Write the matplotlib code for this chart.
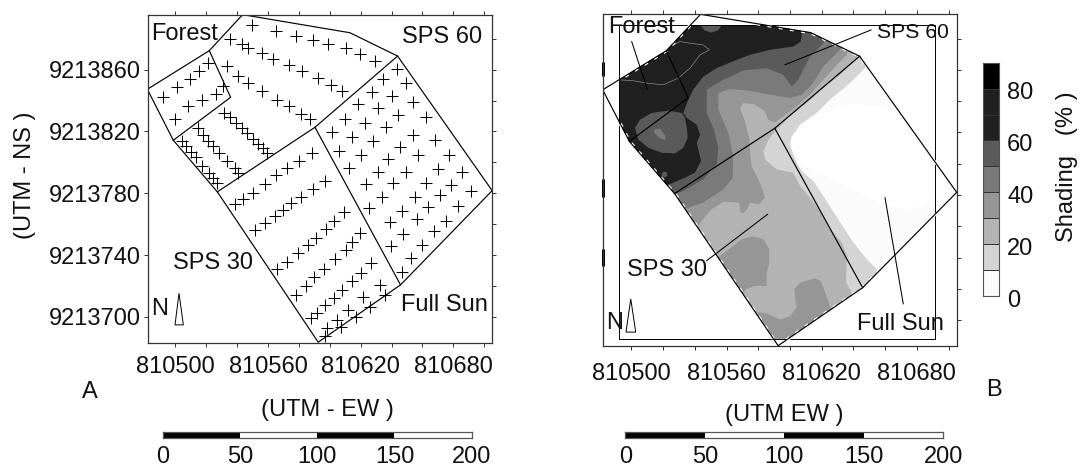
import numpy as np
import matplotlib
matplotlib.use('Agg')
import matplotlib.pyplot as plt
from matplotlib.colors import ListedColormap
from matplotlib.patches import Polygon
from matplotlib.transforms import ScaledTranslation

plt.rcParams['font.family'] = ['Liberation Sans', 'DejaVu Sans']
plt.rcParams['font.size'] = 17

#data, east and north are relative to these bases
E0 = 810000
N0 = 9213000

#plot boundaries
outline_e = [543.6, 613.0, 643.9, 705.1, 645.8, 592.5, 527.2, 498.7, 481.9, 522.0, 543.6]
outline_n = [895.6, 883.9, 868.8, 781.7, 720.7, 683.6, 780.9, 814.3, 847.3, 872.3, 895.6]
split1_e = [643.9, 590.4, 527.2]
split1_n = [868.8, 822.7, 780.9]
split2_e = [498.7, 535.8, 522.0]
split2_n = [814.3, 842.1, 872.3]
split3_e = [590.4, 645.8]
split3_n = [822.7, 720.7]

#sampling points of panel A
forest_e = [492.2, 500.9, 509.5, 515.3, 520.9, 499.8, 508.4, 517.3, 526.1, 530.6]
forest_n = [842.1, 848.6, 853.7, 859.1, 864.1, 828.1, 836.5, 840.4, 844.3, 849.4]
sps60_e = [549.8, 565.4, 578.1, 588.9, 599.0, 610.2, 619.5, 629.2,
           535.4, 542.9, 547.2, 555.9, 563.4, 573.6, 582.2, 592.5, 600.9, 607.8,
           533.2, 540.8, 547.2, 556.3, 565.6, 573.8, 581.3, 587.1,
           531.5, 535.4, 539.3, 542.9, 546.6, 550.0, 553.7, 556.9, 559.5,
           514.5, 517.7, 521.4, 524.6, 528.5, 533.6, 538.6, 540.8,
           504.1, 506.9, 509.9, 513.2, 517.0, 522.0, 524.6, 526.7]
sps60_n = [888.7, 885.0, 881.8, 879.2, 876.6, 874.2, 870.1, 865.8,
           880.1, 876.6, 874.0, 870.6, 866.7, 863.2, 859.4, 854.4, 850.1, 846.0,
           862.6, 855.9, 851.6, 846.2, 840.4, 836.5, 831.3, 827.9,
           832.2, 829.2, 825.7, 822.0, 818.8, 814.9, 811.9, 809.1, 805.9,
           822.0, 817.7, 814.1, 810.6, 806.3, 800.9, 796.2, 792.9,
           813.8, 810.8, 806.9, 803.7, 797.9, 792.9, 789.7, 786.9]
sun_e = [643.2, 634.6, 649.3, 627.0, 640.0, 618.4, 654.0, 631.4, 609.8, 644.3, 662.0, 622.7, 636.1,
         601.2, 614.1, 654.0, 628.1, 668.0, 606.1, 645.4, 619.9, 657.2, 677.3, 637.8, 612.6, 631.4,
         649.3, 670.2, 685.9, 623.2, 640.6, 662.6, 678.2, 691.5, 633.5, 655.1, 671.3, 625.5, 646.5,
         663.3, 683.1, 638.9, 656.2, 674.9, 647.5, 667.4, 639.3, 660.0, 652.5, 646.5]
sun_n = [860.2, 853.7, 851.6, 845.3, 843.2, 838.0, 838.9, 835.4, 828.1, 830.9, 829.2, 825.7, 822.7,
         819.4, 816.2, 817.7, 814.1, 814.5, 807.6, 809.7, 804.8, 804.8, 804.8, 802.0, 796.6, 794.0,
         794.0, 795.7, 794.0, 785.8, 786.5, 786.5, 785.4, 781.7, 777.4, 777.8, 778.9, 770.3, 768.8,
         771.4, 772.0, 761.7, 763.2, 762.3, 753.7, 755.6, 746.1, 746.6, 737.9, 729.3]
sps30_e = [538.6, 544.0, 550.5, 558.0, 565.1, 572.5, 580.0, 588.2,
           551.6, 558.0, 564.5, 569.9, 574.8, 581.1, 588.9, 596.8,
           566.0, 572.5, 579.2, 585.6, 591.0, 597.3, 602.7, 609.4,
           578.1, 584.6, 589.9, 596.2, 603.3, 610.4, 614.5, 619.5,
           587.6, 591.9, 596.8, 602.7, 607.6, 614.1, 620.1, 626.8,
           596.8, 597.9, 604.4, 607.0, 611.5, 616.7, 621.7, 626.0, 632.4, 635.9]
sps30_n = [772.9, 776.1, 780.4, 785.8, 791.9, 796.2, 801.1, 806.3,
           756.3, 760.6, 765.3, 769.2, 773.5, 777.8, 782.6, 788.2,
           731.0, 735.3, 741.2, 746.6, 750.9, 756.7, 762.1, 768.1,
           714.2, 720.2, 725.6, 731.0, 737.3, 743.3, 748.3, 754.1,
           699.1, 702.8, 707.7, 712.1, 717.4, 723.5, 728.7, 735.1,
           687.9, 692.6, 698.0, 693.3, 704.5, 700.2, 713.1, 706.7, 720.7, 714.2]

#mapped area of panel B, the plot inside the grid rectangle
mapped_e = [537.1, 585.1, 613.0, 643.9, 691.6, 691.6, 645.8, 598.8, 589.5, 527.2, 498.7, 492.4, 492.4, 522.0]
mapped_n = [888.6, 888.6, 883.9, 868.8, 800.9, 767.8, 720.7, 688.0, 688.0, 780.9, 814.3, 826.7, 853.8, 872.3]

#shading isolines of panel B, each ring holds the area above that shading
core_e = [600.0, 602.5, 616.8, 640.0, 663.1, 675.7, 691.7, 691.7, 675.7, 658.9, 642.1, 623.1, 608.4, 602.1]
core_n = [812.3, 819.7, 831.4, 838.9, 834.6, 824.0, 804.9, 778.3, 769.8, 774.1, 782.6, 792.1, 798.5, 805.9]
above10_e = [470, 660, 647.3, 637.8, 625.2, 616.8, 606.3, 601.1, 600.0, 602.1, 605.2, 608.4, 614.7, 621.0,
             630.4, 639.9, 648.4, 655.7, 655.7, 470]
above10_n = [900, 900, 861.2, 851.6, 841.0, 832.5, 825.0, 817.6, 812.3, 805.9, 798.5, 794.3, 788.9, 779.4,
             764.5, 749.7, 739.0, 731.6, 680, 680]
above20_e = [470, 645, 642.1, 631.6, 621.0, 610.5, 600.0, 591.6, 586.4, 583.2, 584.3, 591.6, 602.1, 606.3,
             616.8, 625.2, 632.6, 635.8, 635.3, 640.0, 640.0, 470]
above20_n = [900, 900, 866.9, 856.9, 848.4, 838.9, 830.4, 821.9, 815.5, 808.1, 802.7, 796.4, 794.3, 785.8,
             773.0, 758.1, 749.7, 741.2, 724.2, 715.7, 680, 680]
above30_e = [470, 640, 635.8, 630.5, 621.0, 612.6, 604.2, 595.8, 590.6, 586.4, 584.3, 577.9, 570.6, 568.5,
             571.6, 574.4, 574.8, 575.8, 581.1, 584.3, 580.1, 574.8, 572.3, 570.2, 568.5, 568.1, 558.0,
             550.6, 544.3, 537.0, 470]
above30_n = [900, 900, 869.7, 864.3, 853.7, 844.2, 836.7, 830.4, 826.5, 827.8, 833.5, 837.8, 838.9, 835.7,
             827.2, 815.5, 807.0, 798.5, 787.9, 778.3, 774.1, 775.1, 769.8, 768.3, 769.8, 775.1, 775.8,
             770.9, 763.4, 751.8, 751.8]
patch30a_e = [552.7, 555.9, 563.2, 569.5, 576.9, 583.2, 586.9, 586.9, 585.3, 585.3, 577.9, 572.7, 569.5, 562.2]
patch30a_n = [739.0, 741.1, 746.5, 751.8, 753.5, 751.8, 745.4, 736.9, 729.5, 721.6, 722.0, 719.9, 716.7, 726.3]
patch30b_e = [579.0, 586.3, 593.7, 600.0, 604.2, 603.2, 602.7, 606.3, 615.8, 619.3, 622.1, 625.7, 606.3, 596.8, 590.5]
patch30b_n = [705.1, 704.0, 700.3, 702.5, 708.2, 714.6, 719.9, 723.7, 726.7, 725.2, 717.8, 707.2, 690.1, 687.6, 687.6]
above40_e = [470, 640, 631.5, 621.0, 613.7, 607.4, 600.0, 587.4, 572.7, 562.2, 554.8, 554.8, 561.1, 564.2,
             563.9, 557.9, 545.3, 535.9, 480.2, 470]
above40_n = [900, 900, 872.9, 862.2, 850.6, 844.2, 842.1, 844.2, 846.9, 847.8, 845.3, 834.6, 819.8, 804.9,
             791.1, 783.6, 775.2, 772.0, 767.7, 767.7]
above50_e = [470, 630, 621.0, 612.6, 605.2, 601.1, 595.8, 585.3, 570.5, 557.9, 547.5, 547.5, 547.5, 551.6,
             554.8, 553.8, 545.3, 532.7, 526.4, 505.4, 470]
above50_n = [900, 900, 877.1, 868.6, 853.7, 849.5, 856.9, 861.2, 859.7, 853.7, 847.4, 839.9, 832.5, 823.0,
             810.2, 799.6, 790.0, 782.5, 780.4, 770.9, 770.9]
above60_e = [470, 608.4, 608.4, 606.7, 602.1, 587.4, 574.8, 566.4, 553.8, 545.3, 539.0, 535.9, 532.7, 534.9,
             541.2, 543.3, 541.2, 543.9, 540.1, 533.8, 525.4, 511.7, 470]
above60_n = [900, 896.2, 888.6, 878.1, 875.0, 872.9, 869.7, 866.5, 861.2, 855.8, 847.4, 841.0, 832.5, 829.3,
             825.0, 818.7, 813.4, 801.7, 794.3, 791.1, 787.4, 783.6, 783.6]
#areas below 60 inside the dark part
below60_e = [502.3, 505.4, 512.8, 523.3, 531.7, 533.8, 534.9, 535.5, 532.7, 527.5, 519.1, 510.7, 504.3]
below60_n = [823.0, 828.2, 832.5, 834.0, 832.5, 829.3, 823.0, 816.6, 810.2, 806.6, 807.0, 810.2, 815.5]
below50_e = [514.4, 518.0, 521.6, 521.2, 517.4, 514.4]
below50_n = [821.9, 822.5, 817.6, 815.0, 816.6, 819.8]
dip60_e = [543.3, 546.4, 550.6, 554.8, 556.9]
dip60_n = [888.6, 885.2, 883.9, 885.6, 888.6]
spot60_e = [520.5]
spot60_n = [793.6]
line70_e = [492.4, 501.2, 509.6, 520.1, 529.6, 537.0, 543.3, 549.2, 545.4, 537.0, 530.7, 526.5]
line70_n = [853.7, 853.1, 851.6, 850.5, 854.8, 861.2, 869.7, 872.8, 876.0, 877.1, 878.2, 876.0]

bar_levels = [0, 10, 20, 30, 40, 50, 60, 70, 80, 90]
bar_colors = ['#fbfbfb', '#d4d4d4', '#b3b3b3', '#969696', '#7a7a7a', '#5a5a5a', '#202020', '#202020', '#000000']
bar_ticks = [0, 20, 40, 60, 80]
scale_values = [0, 50, 100, 150, 200]

W, H = 1082, 467
INK = '#333333'


def ax_px(left, top, right, bottom):
    return fig.add_axes([left/W, 1-bottom/H, (right-left)/W, (bottom-top)/H])


def text_px(x, y, s, **kw):
    kw.setdefault('ha', 'center')
    kw.setdefault('va', 'center')
    fig.text(x/W, 1-y/H, s, color='#111111', **kw)


def frame(ax, xlim, ylim):
    ax.set_xlim(xlim)
    ax.set_ylim(ylim)
    for s in ax.spines.values():
        s.set_linewidth(0.9)
        s.set_color(INK)
    ax.set_xticks([E0+v for v in [500, 560, 620, 680]])
    ax.set_xticklabels(['810500', '810560', '810620', '810680'])
    ax.set_xticks([E0+v for v in [520, 540, 580, 600, 640, 660, 700]], minor=True)
    ax.tick_params(which='both', top=True, right=True, length=3, width=0.7, color=INK, labelcolor='#111111')


def boundaries(ax):
    ax.plot(E0+np.array(outline_e), N0+np.array(outline_n), color='k', lw=0.85)
    ax.plot(E0+np.array(split1_e), N0+np.array(split1_n), color='k', lw=0.85)
    ax.plot(E0+np.array(split2_e), N0+np.array(split2_n), color='k', lw=0.85)
    ax.plot(E0+np.array(split3_e), N0+np.array(split3_n), color='k', lw=0.85)


def north(ax, e, n):
    ax.add_patch(Polygon(list(zip(E0+np.array(e), N0+np.array(n))), closed=True, fc='w', ec='k', lw=0.7, zorder=5))


def scale_bar(left, right, top, bottom):
    ax = ax_px(left, top, right, bottom)
    ax.set_xlim(0, 200)
    ax.set_ylim(0, 1)
    ax.bar([25, 125], [1, 1], width=50, color='k')
    ax.set_yticks([])
    ax.set_xticks(scale_values)
    ax.tick_params(length=0, pad=5.5, labelcolor='#111111')
    for s in ax.spines.values():
        s.set_linewidth(0.9)
        s.set_color('#555555')
    return ax


fig = plt.figure(figsize=(W/100, H/100), dpi=100)

#panel A
ax = ax_px(147.5, 14.5, 492, 342.5)
frame(ax, (810482.0, 810705.0), (9213683.4, 9213895.7))
ax.set_yticks([N0+v for v in [860, 820, 780, 740, 700]])
ax.set_yticklabels(['9213860', '9213820', '9213780', '9213740', '9213700'])
ax.set_yticks([N0+v for v in [880, 840, 800, 760, 720]], minor=True)
ax.tick_params(which='minor', left=False)
ax.tick_params(axis='y', pad=2)
ax.tick_params(axis='x', pad=7)
boundaries(ax)
for e, n in [(forest_e, forest_n), (sps60_e, sps60_n), (sun_e, sun_n), (sps30_e, sps30_n)]:
    ax.plot(E0+np.array(e), N0+np.array(n), '+', color='k', ms=8.8, mew=0.75)
north(ax, [502.4, 499.8, 505.2], [715.3, 694.8, 694.8])
text_px(185, 34, 'Forest')
text_px(441.7, 37, 'SPS 60')
text_px(213, 263, 'SPS 30')
text_px(444.5, 305, 'Full Sun')
text_px(160, 309, 'N')
text_px(89.7, 392, 'A')
text_px(25, 175, '(UTM - NS )', rotation=90)
text_px(327, 410, '(UTM - EW )')
scale_bar(162.7, 471.7, 432, 438.3)

#panel B
ax = ax_px(602.7, 14, 956.7, 346)
frame(ax, (810481.9, 810705.1), (9213683.4, 9213895.8))
ax.set_yticks([N0+v for v in [880, 860, 840, 820, 800, 780, 760, 740, 720, 700]])
ax.set_yticklabels([])
ax.tick_params(axis='y', left=False)
ax.tick_params(axis='x', pad=9)
clip = Polygon(list(zip(E0+np.array(mapped_e), N0+np.array(mapped_n))), closed=True, transform=ax.transData)
fills = [(mapped_e, mapped_n, '#fbfbfb'), (core_e, core_n, '#ffffff'),
         (above10_e, above10_n, bar_colors[1]), (above20_e, above20_n, bar_colors[2]),
         (above30_e, above30_n, bar_colors[3]), (patch30a_e, patch30a_n, bar_colors[3]),
         (patch30b_e, patch30b_n, bar_colors[3]), (above40_e, above40_n, bar_colors[4]),
         (above50_e, above50_n, bar_colors[5]), (above60_e, above60_n, bar_colors[6]),
         (below60_e, below60_n, bar_colors[5]), (below50_e, below50_n, bar_colors[4]),
         (dip60_e, dip60_n, bar_colors[5])]
for e, n, c in fills:
    for p in ax.fill(E0+np.array(e), N0+np.array(n), color=c, lw=0):
        p.set_clip_path(clip)
ax.plot(E0+np.array(spot60_e), N0+np.array(spot60_n), 'o', color=bar_colors[5], ms=3)
ax.plot(E0+np.array(line70_e), N0+np.array(line70_n), color='#8a8a8a', lw=0.5)
ax.plot([E0+492.4, E0+691.6, E0+691.6, E0+492.4, E0+492.4],
        [N0+888.6, N0+888.6, N0+688.0, N0+688.0, N0+888.6], color='k', lw=0.7)
#blanked edge of the map shows as small white notches
ax.plot(E0+np.array(outline_e), N0+np.array(outline_n), color='w', lw=2.4, ls=(0, (1.2, 2.2)))
boundaries(ax)
#heavy pieces of the left frame
ax.vlines([810481.9]*3, [N0+856.3, N0+779.0, N0+734.6], [N0+865.2, N0+790.0, N0+745.4], color='k', lw=2.2, clip_on=False)
#leaders from the labels
ax.plot([E0+500.2, E0+510.0], [N0+878.1, N0+847.8], color='k', lw=0.75)
ax.plot([E0+651.1, E0+596.8], [N0+885.6, N0+863.3], color='k', lw=0.75)
ax.plot([E0+585.9, E0+547.5], [N0+767.7, N0+738.0], color='k', lw=0.75)
ax.plot([E0+659.9, E0+671.4], [N0+778.3, N0+710.4], color='k', lw=0.75)
north(ax, [499.6, 496.6, 502.7], [713.5, 692.3, 692.3])
text_px(641.5, 27, 'Forest')
text_px(912.5, 32, 'SPS 60', fontsize=15.2)
text_px(667.3, 270, 'SPS 30')
text_px(900.3, 324, 'Full Sun')
text_px(615, 322.7, 'N')
text_px(994, 390, 'B')
text_px(784, 415, '(UTM EW )')
scale_bar(625.2, 943.4, 432, 438.3)

#colour bar
cax = ax_px(983.3, 62.7, 998.7, 296)
cax.pcolormesh([0, 1], bar_levels, np.arange(9).reshape(-1, 1),
               cmap=ListedColormap(bar_colors), edgecolors='#333333', linewidth=0.6)
cax.set_xticks([])
cax.yaxis.tick_right()
cax.set_yticks(bar_ticks)
cax.tick_params(length=0, pad=6, labelcolor='#111111')
for lab in cax.get_yticklabels():
    lab.set_transform(lab.get_transform()+ScaledTranslation(0, -1.5/72, fig.dpi_scale_trans))
for s in cax.spines.values():
    s.set_linewidth(0.8)
    s.set_color('#555555')
text_px(1067, 167, 'Shading   (% )', rotation=90)

fig.savefig('out.png', dpi=100)
